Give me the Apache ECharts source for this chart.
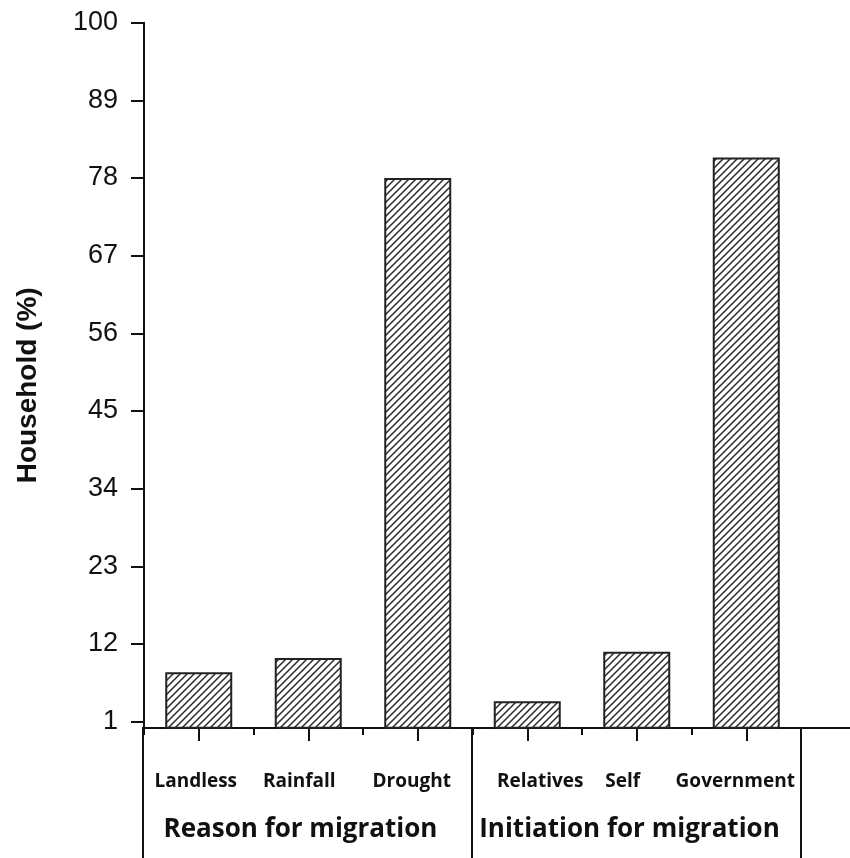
<!DOCTYPE html>
<html>
<head>
<meta charset="utf-8">
<script src="https://cdn.jsdelivr.net/npm/echarts@6/dist/echarts.min.js"></script>
<style>
  html, body { margin: 0; padding: 0; background: #fff; }
  #chart { width: 850px; height: 858px; }
</style>
</head>
<body>
<div id="chart"></div>
<script>
// data
const categories = ['Landless', 'Rainfall', 'Drought', 'Relatives', 'Self', 'Government'];
const households = [8.0, 10.0, 78.0, 3.9, 10.9, 80.9];
const groupLabels = ['Reason for migration', 'Initiation for migration'];
const yTicks = [1, 12, 23, 34, 45, 56, 67, 78, 89, 100];

// the category labels sit a bit off the bar centres in the original (px, + is right)
const labelNudge = [-3, -9, -6, 13, -14, -11];

// hatch fill "/" for the bars
function makeHatch() {
  const c = document.createElement('canvas');
  c.width = 7;
  c.height = 7;
  const ctx = c.getContext('2d');
  ctx.fillStyle = '#fff';
  ctx.fillRect(0, 0, 7, 7);
  ctx.strokeStyle = '#2a2a2a';
  ctx.lineWidth = 1.5;
  ctx.beginPath();
  ctx.moveTo(-1, 8); ctx.lineTo(8, -1);
  ctx.moveTo(-1, 1); ctx.lineTo(1, -1);
  ctx.moveTo(6, 8); ctx.lineTo(8, 6);
  ctx.stroke();
  return c;
}

const ink = '#111';
const chart = echarts.init(document.getElementById('chart'));

const catData = categories.map((name, i) => {
  const d = labelNudge[i];
  return {
    value: name,
    textStyle: { padding: d < 0 ? [0, -2 * d, 0, 0] : [0, 0, 0, 2 * d] },
  };
});

const option = {
  backgroundColor: '#fff',
  animation: false,
  grid: [
    // main plot
    { left: 144, right: 49, top: 22.7, bottom: 130, outerBoundsMode: 'none' },
    // just for the x axis line running on to the right edge
    { left: 144, right: 0, top: 22.7, bottom: 130, outerBoundsMode: 'none' },
    // box under the axis with the group names
    {
      left: 143, right: 49, top: 728, bottom: -10, outerBoundsMode: 'none',
      show: true, borderColor: ink, borderWidth: 2, backgroundColor: 'transparent',
    },
  ],
  xAxis: [
    {
      type: 'category',
      gridIndex: 0,
      position: 'bottom',
      data: catData,
      axisLine: { show: true, lineStyle: { color: ink, width: 2 } },
      axisTick: { show: true, length: 7, interval: 0, lineStyle: { color: ink, width: 2 } },
      axisLabel: {
        interval: 0,
        margin: 44,
        color: ink,
        fontFamily: 'Open Sans',
        fontWeight: 'bold',
        fontSize: 19,
      },
      splitLine: { show: false },
    },
    {
      type: 'category',
      gridIndex: 0,
      position: 'bottom',
      data: categories,
      axisLine: { show: false },
      axisTick: { show: true, alignWithLabel: true, interval: 0, length: 13, lineStyle: { color: ink, width: 2 } },
      axisLabel: { show: false, interval: 0 },
      splitLine: { show: false },
    },
    {
      type: 'value',
      gridIndex: 1,
      min: 0,
      max: 1,
      position: 'bottom',
      axisLine: { show: true, lineStyle: { color: ink, width: 2 } },
      axisTick: { show: false },
      axisLabel: { show: false },
      splitLine: { show: false },
    },
    {
      type: 'category',
      gridIndex: 2,
      position: 'top',
      data: groupLabels,
      axisLine: { show: false },
      axisTick: { show: false, interval: 0 },
      axisLabel: {
        interval: 0,
        inside: true,
        margin: 89,
        padding: [0, 14, 0, 0],
        color: ink,
        fontFamily: 'Open Sans',
        fontWeight: 'bold',
        fontSize: 26,
      },
      splitLine: { show: true, interval: 0, lineStyle: { color: ink, width: 2 } },
    },
  ],
  yAxis: [
    {
      type: 'value',
      gridIndex: 0,
      min: 0.1,
      max: 100,
      name: 'Household (%)',
      nameLocation: 'middle',
      nameRotate: 90,
      nameGap: 102,
      nameTextStyle: {
        color: ink,
        fontFamily: 'Liberation Sans',
        fontWeight: 'bold',
        fontSize: 28,
        padding: [0, 20, 0, 0],
      },
      axisLine: { show: true, lineStyle: { color: ink, width: 2 } },
      axisTick: { show: true, length: 13, customValues: yTicks, lineStyle: { color: ink, width: 2 } },
      axisLabel: {
        customValues: yTicks,
        margin: 26,
        color: ink,
        fontFamily: 'Liberation Sans',
        fontSize: 27,
      },
      splitLine: { show: false },
    },
    { type: 'value', gridIndex: 1, show: false },
    { type: 'value', gridIndex: 2, show: false },
  ],
  series: [
    {
      type: 'bar',
      xAxisIndex: 0,
      yAxisIndex: 0,
      data: households,
      barWidth: 67,
      itemStyle: {
        color: { image: makeHatch(), repeat: 'repeat' },
        borderColor: '#222',
        borderWidth: 2,
      },
    },
  ],
};

chart.setOption(option);
</script>
</body>
</html>
